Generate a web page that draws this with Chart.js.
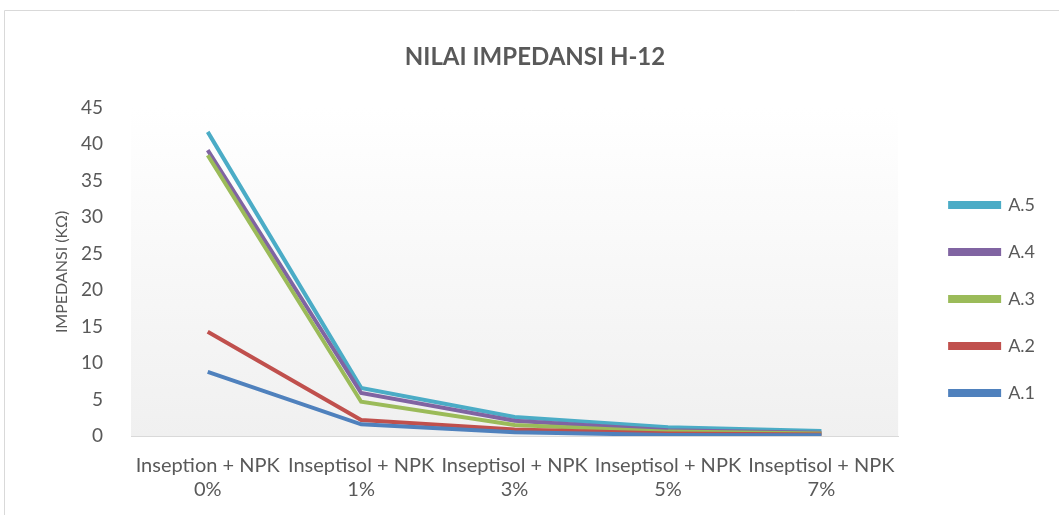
<!DOCTYPE html>
<html>
<head>
<meta charset="utf-8">
<script src="https://cdn.jsdelivr.net/npm/chart.js@4.4.0/dist/chart.umd.min.js"></script>
<style>
	html, body { margin: 0; padding: 0; background: #fff; }
	#wrap { position: relative; width: 1059px; height: 515px; }
</style>
</head>
<body>
<div id="wrap"><canvas id="line-chart" width="1059" height="515"></canvas></div>
<script>
// Data.
var categories = [
	["Inseption + NPK", "0%"],
	["Inseptisol + NPK", "1%"],
	["Inseptisol + NPK", "3%"],
	["Inseptisol + NPK", "5%"],
	["Inseptisol + NPK", "7%"]
];
var seriesA1 = [8.8, 1.6, 0.5, 0.15, 0.1];
var seriesA2 = [14.3, 2.2, 0.9, 0.35, 0.2];
var seriesA3 = [38.5, 4.7, 1.5, 0.6, 0.35];
var seriesA4 = [39.2, 5.9, 2.1, 0.8, 0.45];
var seriesA5 = [41.7, 6.6, 2.6, 1.2, 0.7];
var yTicks = [0, 5, 10, 15, 20, 25, 30, 35, 40, 45];

var textGray = "#595959";
var fontFace = "Lato, 'Open Sans', sans-serif";

// Outer frame and soft gradient behind the plot.
var framePlugin = {
	id: "frame",
	afterLayout: function (chart) {
		// nudge legend and title, like the original
		var lg = chart.legend;
		lg.left += 23; lg.right += 23;
		lg.top += 38; lg.bottom += 38;
		var t = chart.titleBlock;
		t.left += 19; t.right += 19;
	},
	beforeDraw: function (chart) {
		var ctx = chart.ctx, a = chart.chartArea;
		ctx.save();
		var g = ctx.createLinearGradient(0, a.top, 0, a.bottom);
		g.addColorStop(0, "#ffffff");
		g.addColorStop(1, "#f0f0f0");
		ctx.fillStyle = g;
		ctx.fillRect(a.left, a.top, a.right - a.left, a.bottom - a.top);
		ctx.strokeStyle = "#d9d9d9";
		ctx.lineWidth = 1;
		ctx.beginPath();
		ctx.moveTo(4.5, chart.height);
		ctx.lineTo(4.5, 10.5);
		ctx.lineTo(chart.width, 10.5);
		ctx.stroke();
		ctx.restore();
	}
};

function makeSet(label, data, color) {
	return {
		label: label,
		data: data,
		borderColor: color,
		backgroundColor: color,
		borderWidth: 4,
		pointRadius: 0,
		tension: 0,
		fill: false
	};
}

new Chart(document.getElementById("line-chart"), {
	type: "line",
	data: {
		labels: categories,
		datasets: [
			makeSet("A.1", seriesA1, "#4F81BD"),
			makeSet("A.2", seriesA2, "#C0504D"),
			makeSet("A.3", seriesA3, "#9BBB59"),
			makeSet("A.4", seriesA4, "#8064A2"),
			makeSet("A.5", seriesA5, "#4BACC6")
		]
	},
	plugins: [framePlugin],
	options: {
		responsive: false,
		animation: false,
		layout: { padding: { left: 10, right: 37, top: 20, bottom: 13 } },
		plugins: {
			title: {
				display: true,
				text: "NILAI IMPEDANSI H-12",
				color: textGray,
				font: { family: fontFace, size: 24, weight: "bold" },
				padding: { top: 23, bottom: 36 }
			},
			legend: {
				position: "right",
				reverse: true,
				labels: {
					boxWidth: 49,
					boxHeight: 4,
					padding: 29,
					color: textGray,
					font: { family: fontFace, size: 18 }
				}
			},
			tooltip: { enabled: false }
		},
		scales: {
			x: {
				offset: true,
				afterFit: function (axis) {
					axis.height = 66;
				},
				grid: { display: false, drawTicks: false },
				border: { display: true, color: "#d9d9d9", width: 1 },
				ticks: {
					color: textGray,
					font: { family: fontFace, size: 20 },
					maxRotation: 0,
					autoSkip: false,
					padding: 18
				}
			},
			y: {
				min: 0,
				max: 45,
				afterBuildTicks: function (axis) {
					axis.ticks = yTicks.map(function (v) { return { value: v }; });
				},
				afterFit: function (axis) {
					axis.width = 121;
				},
				grid: { display: false, drawTicks: false },
				border: { display: false },
				ticks: {
					color: textGray,
					font: { family: fontFace, size: 19 },
					padding: 28
				},
				title: {
					display: true,
					text: "IMPEDANSI (KΩ)",
					color: textGray,
					font: { family: fontFace, size: 16 },
					padding: { top: 42, bottom: 0 }
				}
			}
		}
	}
});
</script>
</body>
</html>
